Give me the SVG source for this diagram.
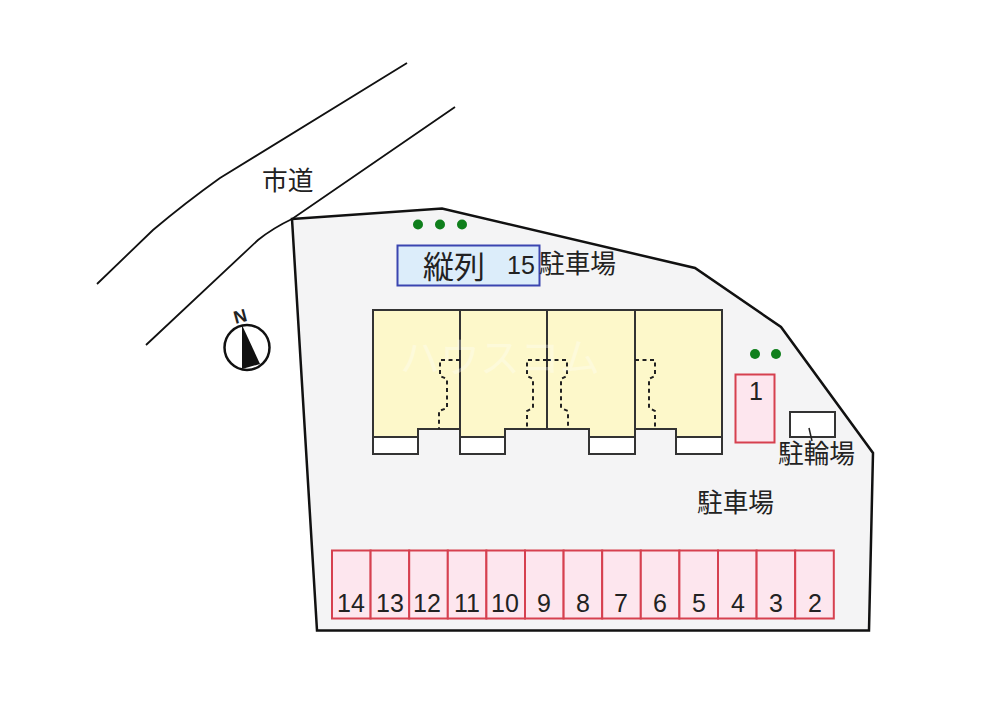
<svg xmlns="http://www.w3.org/2000/svg" width="1000" height="707" viewBox="0 0 1000 707">
<style>
text{font-family:"Liberation Sans","Noto Sans CJK JP",sans-serif;fill:#222}
.l{font-size:25.700px}
.n{font-size:25px;text-anchor:middle}
.p{fill:#fde6ee;stroke:#d6404f;stroke-width:2}
.b{fill:#fdf8ca;stroke:#333;stroke-width:2}
.w{fill:#fff;stroke:#333;stroke-width:2}
.d{fill:none;stroke:#222;stroke-width:2;stroke-dasharray:4 3.500}
.g{fill:#0f7f1c}
.r{fill:none;stroke:#111;stroke-width:1.800}
</style>
<rect width="1000" height="707" fill="#fff"/>
<g id="site"><path d="M292 219L442 208.500L695 268L781 327L873 453L869 630.500L317 630.500Z" fill="#f4f4f5" stroke="#111" stroke-width="2.500"/></g>
<g id="road">
<path class="r" d="M97 284L153 230Q185 203 220 178L407 63"/>
<path class="r" d="M146 345L258 240Q273 228 292 219L455 107"/>
<text class="l" x="262" y="190">市道</text>
</g>
<g id="compass">
<circle cx="247" cy="347.500" r="22.500" fill="#fff" stroke="#111" stroke-width="2.500"/>
<path d="M242 325L242 369L260 364Z" fill="#111"/>
<text x="240" y="322.500" font-size="18" font-weight="bold" text-anchor="middle" transform="rotate(-15 240 316)">N</text>
</g>
<g id="trees">
<circle class="g" cx="418" cy="224.500" r="5"/><circle class="g" cx="440" cy="224.500" r="5"/><circle class="g" cx="462" cy="224.500" r="5"/>
<circle class="g" cx="755" cy="354" r="5"/><circle class="g" cx="776" cy="354" r="5"/>
</g>
<g id="tandem-parking">
<rect x="397.500" y="245.500" width="142" height="40" fill="#dcedfa" stroke="#3a45b0" stroke-width="2"/>
<text x="423" y="278" font-size="31">縦列</text>
<text x="507" y="274" font-size="25">15</text>
<text class="l" x="539" y="273">駐車場</text>
</g>
<g id="building">
<rect class="w" x="373" y="437" width="45" height="17"/><rect class="w" x="460" y="437" width="45" height="17"/><rect class="w" x="589" y="437" width="46" height="17"/><rect class="w" x="676" y="437" width="46" height="17"/>
<path class="b" d="M373 310H722V437H676V429H635V437H589V429H505V437H460V429H418V437H373Z"/>
<path d="M460 310V429M547 310V429M635 310V429" fill="none" stroke="#333" stroke-width="2"/>
<path class="d" d="M460 360H440V376L447 379V408L439 411V429"/>
<path class="d" d="M547 360H527V376L533 379V408L527 411V429"/>
<path class="d" d="M547 360H567V376L561 379V408L568 411V429"/>
<path class="d" d="M635 360H655V376L649 379V408L655 411V429"/>
<text x="400" y="372" font-size="40" style="fill:#ffffff;opacity:.3">ハウスコム</text>
</g>
<g id="slot-1"><rect class="p" x="735.500" y="374.500" width="39" height="68"/><text class="n" x="756" y="400">1</text></g>
<g id="bike-parking">
<rect x="790" y="412" width="45" height="25" fill="#fff" stroke="#333" stroke-width="2"/>
<path d="M809 428L812 441" stroke="#222" stroke-width="1.500"/>
<text class="l" x="778" y="463">駐輪場</text>
</g>
<g id="parking-label"><text class="l" x="697" y="512">駐車場</text></g>
<g id="slots">
<rect class="p" x="332" y="550.500" width="38.600" height="68"/><text class="n" x="351" y="612">14</text>
<rect class="p" x="370.600" y="550.500" width="38.600" height="68"/><text class="n" x="390" y="612">13</text>
<rect class="p" x="409.200" y="550.500" width="38.600" height="68"/><text class="n" x="427" y="612">12</text>
<rect class="p" x="447.800" y="550.500" width="38.600" height="68"/><text class="n" x="467" y="612">11</text>
<rect class="p" x="486.400" y="550.500" width="38.600" height="68"/><text class="n" x="505" y="612">10</text>
<rect class="p" x="525" y="550.500" width="38.600" height="68"/><text class="n" x="544" y="612">9</text>
<rect class="p" x="563.600" y="550.500" width="38.600" height="68"/><text class="n" x="583" y="612">8</text>
<rect class="p" x="602.200" y="550.500" width="38.600" height="68"/><text class="n" x="621" y="612">7</text>
<rect class="p" x="640.800" y="550.500" width="38.600" height="68"/><text class="n" x="660" y="612">6</text>
<rect class="p" x="679.400" y="550.500" width="38.600" height="68"/><text class="n" x="699" y="612">5</text>
<rect class="p" x="718" y="550.500" width="38.600" height="68"/><text class="n" x="738" y="612">4</text>
<rect class="p" x="756.600" y="550.500" width="38.600" height="68"/><text class="n" x="776" y="612">3</text>
<rect class="p" x="795.200" y="550.500" width="38.600" height="68"/><text class="n" x="815" y="612">2</text>
</g>
</svg>
